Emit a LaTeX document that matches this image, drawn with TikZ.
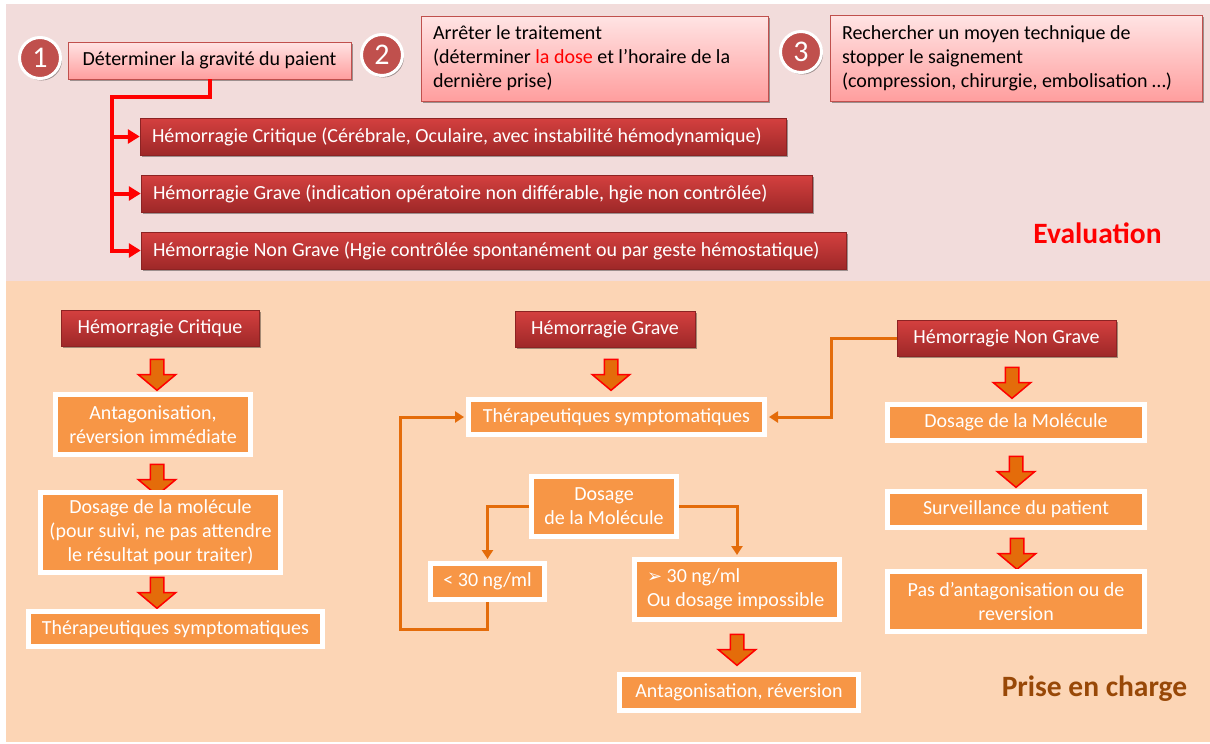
\documentclass[tikz,border=0pt]{standalone}
\usepackage{fontspec}
\setmainfont{Carlito}
\newfontfamily\symbfont{DejaVu Sans}
\usetikzlibrary{arrows.meta,shapes.arrows,shadows}

\definecolor{fondrose}{RGB}{242,220,219}
\definecolor{fondpeche}{RGB}{252,213,181}
\definecolor{rougebrique}{RGB}{192,80,77}
\definecolor{orangeboite}{RGB}{247,150,70}
\definecolor{orangelien}{RGB}{228,108,10}
\definecolor{brun}{RGB}{152,72,7}
\definecolor{rougefonce}{RGB}{140,35,35}

\begin{document}
\begin{tikzpicture}[x=1pt,y=-1pt,font=\fontsize{20}{24}\selectfont,
  ombre/.style={drop shadow={shadow xshift=1.5pt,shadow yshift=-2pt,opacity=.35,fill=black}},
  boiterose/.style={ombre,draw=rougebrique,line width=.8pt,top color={rgb,255:red,255;green,228;blue,228},bottom color={rgb,255:red,255;green,158;blue,158},text=black,align=flush left,inner xsep=12pt,inner ysep=0pt},
  boiterouge/.style={ombre,draw=rougefonce,line width=.5pt,top color={rgb,255:red,212;green,64;blue,63},bottom color={rgb,255:red,158;green,40;blue,40},text=white,inner xsep=12pt,inner ysep=0pt},
  boiteorange/.style={ombre,fill=orangeboite,draw=white,line width=5pt,text=white,align=center,inner sep=0pt},
  pastille/.style={circle,ombre,fill=rougebrique,draw=white,line width=3pt,minimum size=41pt,text=white,font=\fontsize{30}{32}\selectfont,inner sep=0pt},
  grossefleche/.style={single arrow,shape border rotate=270,draw=red,line width=1.5pt,fill=orangelien,inner sep=6pt,single arrow head extend=12pt,single arrow tip angle=100,minimum height=31pt},
  lienrouge/.style={red,line width=4pt,-{Triangle[length=12pt,width=14pt]}},
  lienorange/.style={orangelien,line width=3pt,-{Triangle[length=9pt,width=11pt]},shorten >=2pt}]
\useasboundingbox (0,0) rectangle (1210,744);
\fill[fondrose] (6,4) rectangle (1210,281);
\fill[fondpeche] (6,281) rectangle (1210,742);

% evaluation
\node[pastille] (p1) at (40,58) {1};
\node[boiterose,minimum width=283pt,minimum height=37pt] (det) at (209.5,60.5) {Déterminer la gravité du paient};
\node[pastille] (p2) at (382,55) {2};
\node[boiterose,text width=323pt,minimum height=85pt] (arret) at (594.5,58.5) {Arrêter le traitement\\(déterminer \textcolor{red}{la dose} et l’horaire de la\\dernière prise)};
\node[pastille] (p3) at (801,52) {3};
\node[boiterose,text width=348pt,minimum height=86pt] (stop) at (1016,58) {Rechercher un moyen technique de\\stopper le saignement\\(compression, chirurgie, embolisation …)};
\node[boiterouge,text width=622pt,align=flush left,minimum height=37pt] (evcrit) at (463,136.5) {\mbox{Hémorragie Critique (Cérébrale, Oculaire, avec instabilité hémodynamique)}};
\node[boiterouge,text width=647pt,align=flush left,minimum height=37pt] (evgrave) at (476.5,193.5) {\mbox{Hémorragie Grave (indication opératoire non différable, hgie non contrôlée)}};
\node[boiterouge,text width=681pt,align=flush left,minimum height=37pt] (evnongrave) at (493.5,250.5) {\mbox{Hémorragie Non Grave (Hgie contrôlée spontanément ou par geste hémostatique)}};
\coordinate (tronc) at (112,97);
\draw[lienrouge] (det.south) |- (tronc) |- (evnongrave.west);
\draw[lienrouge] (tronc |- evcrit.west) -- (evcrit.west);
\draw[lienrouge] (tronc |- evgrave.west) -- (evgrave.west);
\node[anchor=base,font=\fontsize{29.5}{32}\selectfont\bfseries,text=red] (titreeval) at (1097.5,243) {Evaluation};

% prise en charge : critique
\node[boiterouge,minimum width=198pt,minimum height=36pt] (crit) at (160,328) {Hémorragie Critique};
\node[grossefleche] (fc1) at (157,372) {};
\node[boiteorange,minimum width=195pt,minimum height=60pt] (antag) at (153,424.5) {Antagonisation,\\réversion immédiate};
\node[grossefleche] (fc2) at (157,477) {};
\node[boiteorange,minimum width=240pt,minimum height=80pt] (dosc) at (160.5,532.5) {Dosage de la molécule\\(pour suivi, ne pas attendre\\le résultat pour traiter)};
\node[grossefleche] (fc3) at (157,590) {};
\node[boiteorange,minimum width=294pt,minimum height=35pt] (therc) at (175.5,629) {Thérapeutiques symptomatiques};

% grave
\node[boiterouge,minimum width=180pt,minimum height=36pt] (grave) at (605,329) {Hémorragie Grave};
\node[grossefleche] (fg1) at (611,372) {};
\node[boiteorange,minimum width=296pt,minimum height=35pt] (therg) at (616.5,417) {Thérapeutiques symptomatiques};
\node[boiteorange,minimum width=145pt,minimum height=60pt] (dosg) at (604,506.5) {Dosage\\de la Molécule};
\node[boiteorange,minimum width=114pt,minimum height=36pt] (inf) at (487.5,581.5) {< 30 ng/ml};
\node[boiteorange,text width=180pt,inner xsep=12.5pt,align=flush left,minimum height=60pt] (sup) at (737,589.5) {\mbox{{\symbfont\fontsize{18}{18}\selectfont ➢}\ 30 ng/ml}\\\mbox{Ou dosage impossible}};
\node[grossefleche] (fg2) at (737,647) {};
\node[boiteorange,minimum width=239pt,minimum height=36pt] (antagg) at (739,692.5) {Antagonisation, réversion};
\draw[lienorange] (dosg.west) -| (inf.north);
\draw[lienorange] (dosg.east) -| (sup.north);
\coordinate (retour) at (400,629);
\draw[lienorange] (inf.south) |- (retour) |- (therg.west);

% non grave
\node[boiterouge,minimum width=219pt,minimum height=36pt] (hng) at (1006.5,338) {Hémorragie Non Grave};
\node[grossefleche] (fn1) at (1012,380) {};
\node[boiteorange,minimum width=257pt,minimum height=36pt] (dosn) at (1016,422.5) {Dosage de la Molécule};
\node[grossefleche] (fn2) at (1016,469) {};
\node[boiteorange,minimum width=257pt,minimum height=36pt] (surv) at (1016,509.5) {Surveillance du patient};
\node[grossefleche] (fn3) at (1017,551) {};
\node[boiteorange,minimum width=257pt,minimum height=60pt] (pas) at (1016,601.5) {Pas d’antagonisation ou de\\reversion};
\coordinate (coude) at (831,338);
\draw[lienorange] (hng.west) -- (coude) |- (therg.east);
\node[anchor=base,font=\fontsize{29.5}{32}\selectfont\bfseries,text=brun] (titrepec) at (1094.5,696) {Prise en charge};
\end{tikzpicture}
\end{document}
